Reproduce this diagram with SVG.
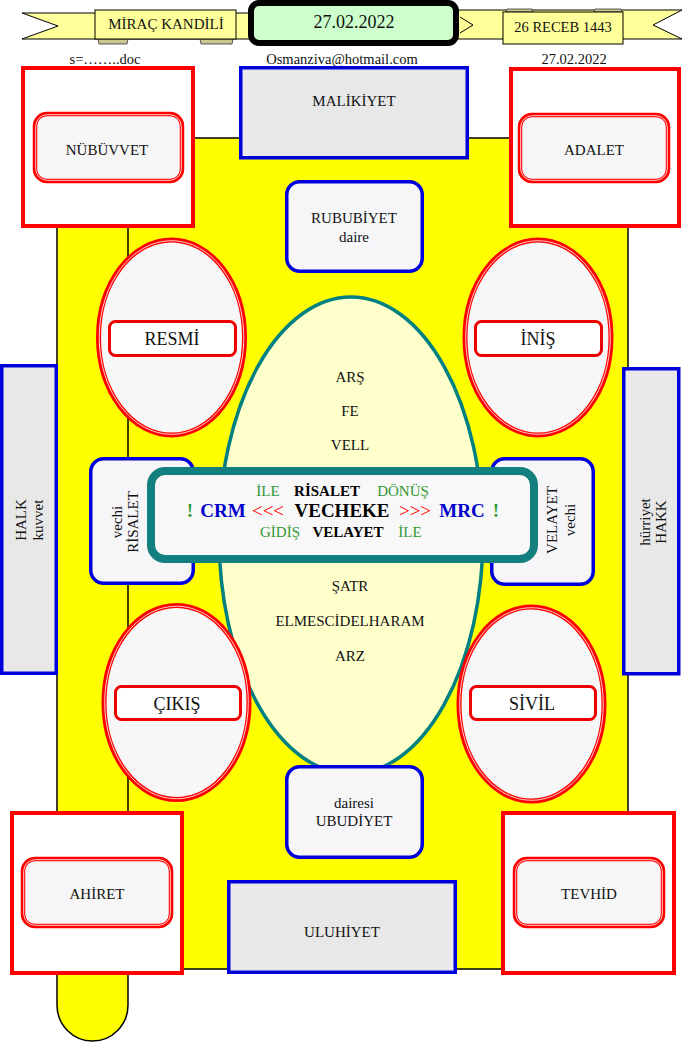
<svg xmlns="http://www.w3.org/2000/svg" width="683" height="1042" viewBox="0 0 683 1042">
<style>
text{font-family:"Liberation Serif","Times New Roman",serif;fill:#111;text-anchor:middle;font-size:15px}
.t18{font-size:18px}
.t14{font-size:14.5px}
.redsq{fill:#fff;stroke:#f00;stroke-width:4}
.redin{fill:#f6f6f6;stroke:#f00;stroke-width:4.5}
.wl{fill:none;stroke:#fff;stroke-width:0.8}
.blue{stroke:#0000dd;stroke-width:3.5}
.gray{fill:#e8e8e8}
.lite{fill:#f6f6f8}
.oval{fill:#f7f7f7;stroke:#f00;stroke-width:5}
.pill{fill:#fff;stroke:#e00;stroke-width:3}
.rib{fill:#ffff99;stroke:#000;stroke-width:1}
.fold{fill:#c8c890;stroke:#333;stroke-width:0.8}
.g{fill:#339933}
.bl{fill:#0000cc;font-weight:bold}
.r{fill:#ff0000}
.k{font-weight:bold;fill:#000}
.m{font-size:19px}
</style>

<g id="body">
<rect x="57" y="138" width="571" height="831" fill="#ffff00" stroke="#000" stroke-width="1.5"/>
<path d="M57,969 V1005 A35.5,36 0 0 0 128,1005 V969 Z" fill="#ffff00" stroke="none"/>
<path d="M57,969 V1005 A35.5,36 0 0 0 128,1005" fill="none" stroke="#000" stroke-width="1.5"/>
<line x1="128" y1="228" x2="128" y2="1005" stroke="#000" stroke-width="1.5"/>
</g>

<g id="connectors"/>

<g id="ribbon">
<polygon class="rib" points="22,13 250,13 250,39 22,39 58,26"/>
<polygon class="rib" points="456,10 682,10 653,25 682,39 456,39"/>
<polyline points="460,17 473,25 460,33" fill="none" stroke="#000" stroke-width="1"/>
<polygon class="fold" points="98,39 128,39 127,44 99,44"/>
<polygon class="fold" points="200,39 233,39 232,44 201,44"/>
<polygon class="fold" points="506,12 533,12 532,9 507,9"/>
<polygon class="fold" points="594,12 622,12 621,9 595,9"/>
</g>

<g id="mirac">
<rect class="rib" x="95" y="10" width="141" height="29"/>
<text x="166" y="29">MİRAÇ KANDİLİ</text>
</g>

<g id="date-box">
<rect x="251" y="3" width="205" height="40" rx="8" fill="#ccffcc" stroke="#000" stroke-width="6"/>
<text class="t18" x="354" y="28">27.02.2022</text>
</g>

<g id="receb">
<rect class="rib" x="503" y="12" width="120" height="32"/>
<text class="t14" x="563" y="32">26 RECEB 1443</text>
</g>

<g id="header-texts">
<text class="t14" x="105" y="64">s=……..doc</text>
<text class="t14" x="342" y="64">Osmanziva@hotmail.com</text>
<text class="t14" x="574" y="64">27.02.2022</text>
</g>

<g id="nubuvvet">
<rect class="redsq" x="23" y="68" width="170" height="158"/>
<rect class="redin" x="35" y="114" width="147" height="67" rx="12"/>
<rect class="wl" x="35.7" y="114.7" width="145.6" height="65.6" rx="11.5"/>
<text x="107" y="155">NÜBÜVVET</text>
</g>

<g id="adalet">
<rect class="redsq" x="511" y="69" width="168" height="157"/>
<rect class="redin" x="520" y="115" width="148" height="66" rx="12"/>
<rect class="wl" x="520.7" y="115.7" width="146.6" height="64.6" rx="11.5"/>
<text x="594" y="155">ADALET</text>
</g>

<g id="malikiyet">
<rect class="gray blue" x="240.75" y="67.75" width="226.5" height="90"/>
<text x="354" y="106">MALİKİYET</text>
</g>

<g id="rububiyet">
<rect class="lite blue" x="286.75" y="181.75" width="135.5" height="89.5" rx="13"/>
<text x="354" y="223">RUBUBİYET</text>
<text x="354" y="242">daire</text>
</g>

<g id="center">
<ellipse cx="351" cy="535.5" rx="132" ry="238.5" fill="#ffffcc" stroke="#008080" stroke-width="3.5"/>
<text x="350" y="382">ARŞ</text>
<text x="350" y="416">FE</text>
<text x="350" y="450">VELL</text>
<text x="350" y="591">ŞATR</text>
<text x="350" y="626">ELMESCİDELHARAM</text>
<text x="350" y="661">ARZ</text>
</g>

<g id="resmi">
<ellipse class="oval" cx="171.5" cy="337.5" rx="73" ry="97.5"/>
<ellipse class="wl" cx="171.5" cy="337.5" rx="72.3" ry="96.8"/>
<rect class="pill" x="109.5" y="321.5" width="126" height="34" rx="6"/>
<text class="t18" x="172" y="345">RESMİ</text>
</g>

<g id="inis">
<ellipse class="oval" cx="538" cy="337.5" rx="73" ry="97.5"/>
<ellipse class="wl" cx="538" cy="337.5" rx="72.3" ry="96.8"/>
<rect class="pill" x="475.5" y="321.5" width="126" height="34" rx="6"/>
<text class="t18" x="538" y="345">İNİŞ</text>
</g>

<g id="cikis">
<ellipse class="oval" cx="176.5" cy="702.5" rx="72.5" ry="97"/>
<ellipse class="wl" cx="176.5" cy="702.5" rx="71.8" ry="96.3"/>
<rect class="pill" x="115.5" y="686.5" width="125" height="33" rx="6"/>
<text class="t18" x="177" y="710">ÇIKIŞ</text>
</g>

<g id="sivil">
<ellipse class="oval" cx="531.5" cy="704" rx="72.5" ry="97"/>
<ellipse class="wl" cx="531.5" cy="704" rx="71.8" ry="96.3"/>
<rect class="pill" x="470.5" y="686.5" width="125" height="33" rx="6"/>
<text class="t18" x="532" y="710">SİVİL</text>
</g>

<g id="vechi-risalet">
<rect class="lite blue" x="90.75" y="458.75" width="102.5" height="124.5" rx="13"/>
<text transform="translate(122,522) rotate(-90)">vechi</text>
<text transform="translate(138,522) rotate(-90)">RİSALET</text>
</g>

<g id="velayet-vechi">
<rect class="lite blue" x="491.75" y="458.75" width="101.5" height="125.5" rx="13"/>
<text transform="translate(557,520) rotate(-90)">VELAYET</text>
<text transform="translate(575,520) rotate(-90)">vechi</text>
</g>

<g id="vecheke">
<rect x="151" y="471" width="383" height="88" rx="14" fill="#f8f8f8" stroke="#137f7f" stroke-width="8"/>
<text class="g" x="268" y="496">İLE</text>
<text class="k" x="327" y="496">RİSALET</text>
<text class="g" x="403" y="496">DÖNÜŞ</text>
<text class="m g" x="190" y="517" font-weight="bold">!</text>
<text class="m bl" x="223" y="517">CRM</text>
<text class="m r" x="268" y="517">&lt;&lt;&lt;</text>
<text class="m k" x="342" y="517">VECHEKE</text>
<text class="m r" x="415" y="517">&gt;&gt;&gt;</text>
<text class="m bl" x="462" y="517">MRC</text>
<text class="m g" x="496" y="517" font-weight="bold">!</text>
<text class="g" x="280" y="537">GİDİŞ</text>
<text class="k" x="348" y="537">VELAYET</text>
<text class="g" x="410" y="537">İLE</text>
</g>

<g id="halk">
<rect class="gray blue" x="1.75" y="365.75" width="54.5" height="307.5"/>
<text transform="translate(26,520) rotate(-90)">HALK</text>
<text transform="translate(43,520) rotate(-90)">kuvvet</text>
</g>

<g id="hurriyet">
<rect class="gray blue" x="623.75" y="368.75" width="55" height="305"/>
<text transform="translate(650,522) rotate(-90)">hürriyet</text>
<text transform="translate(666,522) rotate(-90)">HAKK</text>
</g>

<g id="ubudiyet">
<rect class="lite blue" x="286.75" y="766.75" width="135.5" height="90.5" rx="13"/>
<text x="354" y="808">dairesi</text>
<text x="354" y="826">UBUDİYET</text>
</g>

<g id="uluhiyet">
<rect class="gray blue" x="228.75" y="881.75" width="226.5" height="90.5"/>
<text x="342" y="937">ULUHİYET</text>
</g>

<g id="ahiret">
<rect class="redsq" x="12" y="813" width="170" height="160"/>
<rect class="redin" x="23" y="859" width="148" height="67" rx="12"/>
<rect class="wl" x="23.7" y="859.7" width="146.6" height="65.6" rx="11.5"/>
<text x="97" y="899">AHİRET</text>
</g>

<g id="tevhid">
<rect class="redsq" x="503" y="813" width="171" height="160"/>
<rect class="redin" x="515" y="859" width="148" height="67" rx="12"/>
<rect class="wl" x="515.7" y="859.7" width="146.6" height="65.6" rx="11.5"/>
<text x="589" y="899">TEVHİD</text>
</g>
</svg>
